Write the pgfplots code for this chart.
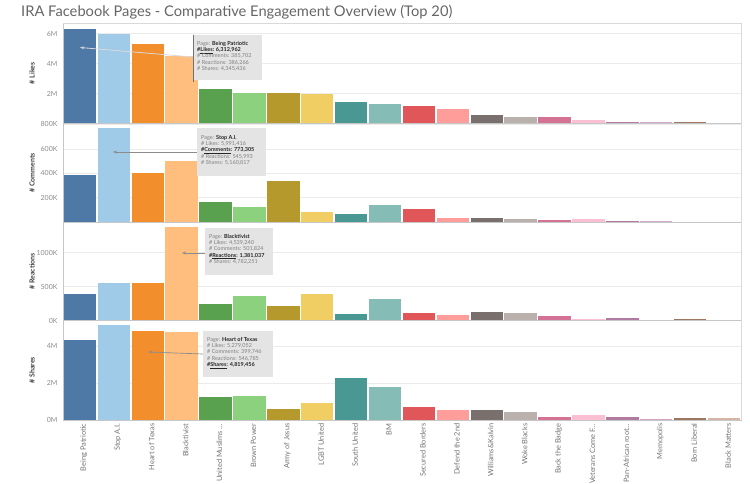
\documentclass[border=0pt]{standalone}
\usepackage{pgfplots}
\pgfplotsset{compat=1.18}
\usepackage{pgfplotstable}
\usepackage{fontspec}
\setmainfont{Lato}
\usetikzlibrary{arrows.meta}

\definecolor{c0}{HTML}{4E79A7}
\definecolor{c1}{HTML}{A0CBE8}
\definecolor{c2}{HTML}{F28E2B}
\definecolor{c3}{HTML}{FFBE7D}
\definecolor{c4}{HTML}{59A14F}
\definecolor{c5}{HTML}{8CD17D}
\definecolor{c6}{HTML}{B6992D}
\definecolor{c7}{HTML}{F1CE63}
\definecolor{c8}{HTML}{499894}
\definecolor{c9}{HTML}{86BCB6}
\definecolor{c10}{HTML}{E15759}
\definecolor{c11}{HTML}{FF9D9A}
\definecolor{c12}{HTML}{79706E}
\definecolor{c13}{HTML}{BAB0AC}
\definecolor{c14}{HTML}{D37295}
\definecolor{c15}{HTML}{FABFD2}
\definecolor{c16}{HTML}{B07AA1}
\definecolor{c17}{HTML}{D4A6C8}
\definecolor{c18}{HTML}{9D7660}
\definecolor{c19}{HTML}{D7B5A6}
\definecolor{boxgray}{HTML}{E4E4E4}

\pgfplotstableread{
x likes comments reactions shares
0 6312962 385702 386266 4345436
1 5991416 773305 545993 5160817
2 5279052 399746 546785 4819456
3 4539240 501824 1381037 4782251
4 2280000 164000 243000 1250000
5 2060000 120000 365000 1300000
6 2060000 338000 218000 600000
7 1950000 80000 385000 900000
8 1420000 68000 96000 2270000
9 1300000 137000 316000 1800000
10 1190000 109000 115000 690000
11 970000 33000 85000 560000
12 550000 33000 130000 530000
13 410000 27000 110000 430000
14 410000 19000 62000 150000
15 250000 25000 27000 270000
16 100000 11000 37000 150000
17 70000 5000 12000 50000
18 80000 2000 22000 110000
19 40000 1000 5000 90000
}\datatable

\pgfplotsset{
  panel/.style={
    scale only axis, width=678pt, xmin=-0.5, xmax=19.5, ymin=0,
    major tick length=0pt, scaled y ticks=false, xtick=\empty,
    ymajorgrids, grid style={black!8, line width=0.4pt},
    axis line style={black!22, line width=0.6pt},
    yticklabel style={font=\fontsize{7}{8}\selectfont, text=black!45, xshift=-2pt},
    every axis y label/.style={at={(axis description cs:-0.0457,0.5)}, rotate=90, anchor=center,
      font=\fontsize{7}{8}\selectfont\bfseries, text=black!75},
  },
  barsof/.style={ybar, bar shift=0pt, bar width=32.4pt, draw=none},
}

\newcommand{\panelbars}[1]{%
  \pgfplotsinvokeforeach{0,...,19}{%
    \addplot[barsof, fill=c##1, x filter/.expression={x==##1 ? x : nan}] table[x=x, y=#1] {\datatable};
  }%
}

\begin{document}
\begin{tikzpicture}
\useasboundingbox (0,0) rectangle (750pt,483pt);

% Likes
\begin{axis}[panel, at={(63pt,359.5pt)}, anchor=south west, height=100.5pt,
  ymax=6713000, ytick={2000000,4000000,6000000}, yticklabels={2M,4M,6M}, ylabel={\# Likes}]
\panelbars{likes}
\end{axis}

% Comments
\begin{axis}[panel, at={(63pt,261pt)}, anchor=south west, height=98.5pt,
  ymax=807000, ytick={200000,400000,600000,800000}, yticklabels={200K,400K,600K,800K}, ylabel={\# Comments}]
\panelbars{comments}
\end{axis}

% Reactions
\begin{axis}[panel, at={(63pt,162.5pt)}, anchor=south west, height=98.5pt,
  ymax=1448500, ytick={0,500000,1000000}, yticklabels={0K,500K,1000K}, ylabel={\# Reactions}]
\panelbars{reactions}
\end{axis}

% Shares
\begin{axis}[panel, at={(63pt,63pt)}, anchor=south west, height=99.5pt,
  ymax=5408000, ytick={0,2000000,4000000}, yticklabels={0M,2M,4M}, ylabel={\# Shares},
  xtick={0,...,19},
  xticklabels={Being Patriotic,Stop A.I.,Heart of Texas,Blacktivist,United Muslims \ldots,Brown Power,Army of Jesus,LGBT United,South United,BM,Secured Borders,Defend the 2nd,Williams\&Kalvin,Woke Blacks,Back the Badge,Veterans Come F\ldots,Pan-African root\ldots,Memopolis,Born Liberal,Black Matters},
  xticklabel style={rotate=90, anchor=east, font=\fontsize{7.4}{8}\selectfont, text=black!55, yshift=-4pt}]
\panelbars{shares}
\end{axis}

\begin{scope}[shift={(0,483pt)}, x=1pt, y=-1pt]
  \node[anchor=west, font=\fontsize{14.7}{16}\selectfont, text=black!60, inner sep=0pt] at (21,12)
    {IRA Facebook Pages - Comparative Engagement Overview (Top 20)};
  \draw[black!15, line width=0.6pt] (63,23) -- (741,23);
  \draw[black!15, line width=0.6pt] (741,23) -- (741,420);

  \tikzset{tip/.style={font=\fontsize{5.5}{6.3}\selectfont, text=black!50, anchor=north west, align=left, inner sep=0pt}}
  % Likes tooltip
  \fill[boxgray] (193,35) rectangle (262,80);
  \draw[black!55, line width=1.2pt] (193.5,35) -- (193.5,82);
  \draw[white!85!black, line width=0.8pt, -{Stealth[length=4pt,width=3pt]}] (193,57) -- (80,47.5);
  \node[tip] at (197,41) {Page: \textcolor{black!85}{\textbf{Being Patriotic}}\\
    \textcolor{black!85}{\textbf{\#\underline{Likes}: 6,312,962}}\\
    \# Comments: 385,702\\ \# Reactions: 386,266\\ \# Shares: 4,345,436};
  % Comments tooltip
  \fill[boxgray] (197,128) rectangle (266,176);
  \draw[black!45, line width=0.7pt, -{Stealth[length=4pt,width=3pt]}] (197,152) -- (113,152);
  \node[tip] at (201,135) {Page: \textcolor{black!85}{\textbf{Stop A.I.}}\\
    \# Likes: 5,991,416\\
    \textcolor{black!85}{\textbf{\#\underline{Comments}: 773,305}}\\
    \# Reactions: 545,993\\ \# Shares: 5,160,817};
  % Reactions tooltip
  \fill[boxgray] (205,228) rectangle (273,275);
  \draw[black!45, line width=0.7pt, -{Stealth[length=4pt,width=3pt]}] (205,253) -- (182,253);
  \node[tip] at (209,234) {Page: \textcolor{black!85}{\textbf{Blacktivist}}\\
    \# Likes: 4,539,240\\ \# Comments: 501,824\\
    \textcolor{black!85}{\textbf{\#\underline{Reactions}: 1,381,037}}\\
    \# Shares: 4,782,251};
  % Shares tooltip
  \fill[boxgray] (203,331) rectangle (273,377);
  \draw[black!45, line width=0.7pt, -{Stealth[length=4pt,width=3pt]}] (203,354) -- (148,352);
  \node[tip] at (207,337) {Page: \textcolor{black!85}{\textbf{Heart of Texas}}\\
    \# Likes: 5,279,052\\ \# Comments: 399,746\\ \# Reactions: 546,785\\
    \textcolor{black!85}{\textbf{\#\underline{Shares}: 4,819,456}}};
\end{scope}
\end{tikzpicture}
\end{document}
